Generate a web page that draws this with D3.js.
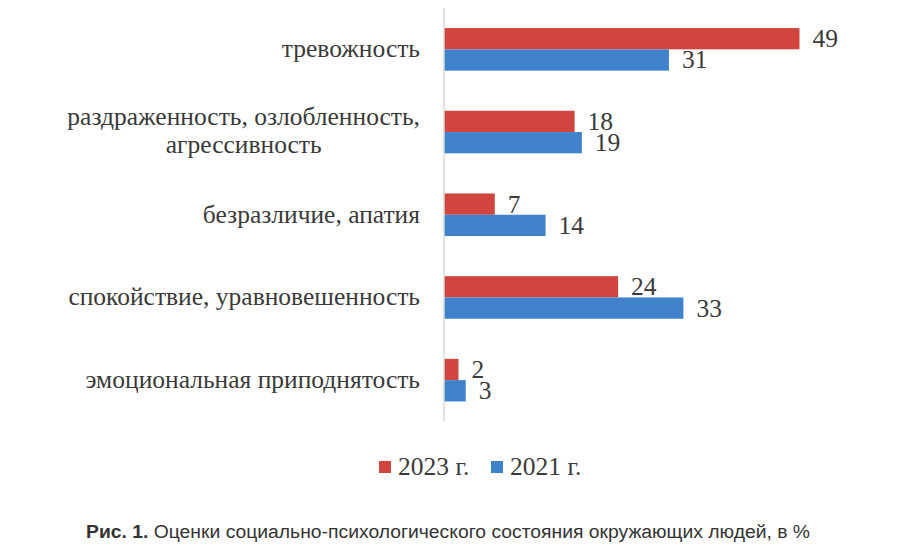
<!DOCTYPE html>
<html>
  <head>
    <meta charset="utf-8">
    <title>Оценки состояния</title>
    <script type="text/javascript" src="https://cdn.jsdelivr.net/npm/d3@7"></script>
    <style>
      body { margin: 0; background: #ffffff; }
    </style>
  </head>
  <body>
    <script type="text/javascript">
      // data
      var categories = [
        ["тревожность"],
        ["раздраженность, озлобленность,", "агрессивность"],
        ["безразличие, апатия"],
        ["спокойствие, уравновешенность"],
        ["эмоциональная приподнятость"]
      ];
      var seriesNames = ["2023 г.", "2021 г."];
      var values2023 = [49, 18, 7, 24, 2];
      var values2021 = [31, 19, 14, 33, 3];
      var colors = ["#d0463f", "#3f82cb"];

      var w = 900, h = 552;
      var svg = d3.select("body").append("svg")
                  .attr("width", w)
                  .attr("height", h);

      var rows = categories.map(function(c, i) {
        return {key: i, label: c, vals: [values2023[i], values2021[i]]};
      });

      var x = d3.scaleLinear().domain([0, 50]).range([444, 444 + 50 * 7.255]);
      var y0 = d3.scaleBand().domain(d3.range(categories.length))
                 .range([8, 421.5]).paddingInner(0.485).paddingOuter(0.2425);
      var y1 = d3.scaleBand().domain([0, 1]).range([0, y0.bandwidth()]);

      var textCol = "#3a3a3a";
      var serif = "'Liberation Serif', 'Times New Roman', serif";
      var fs = 25.5;

      // bars
      var groups = svg.selectAll("g.grp")
                      .data(rows)
                      .enter()
                      .append("g")
                      .attr("class", "grp")
                      .attr("transform", function(d) {
                        return "translate(0," + y0(d.key) + ")";
                      });

      groups.selectAll("rect")
            .data(function(d) { return d.vals; })
            .enter()
            .append("rect")
            .attr("x", x(0))
            .attr("y", function(d, i) { return y1(i); })
            .attr("width", function(d) { return x(d) - x(0); })
            .attr("height", y1.bandwidth())
            .attr("fill", function(d, i) { return colors[i]; });

      groups.selectAll("text.val")
            .data(function(d) { return d.vals; })
            .enter()
            .append("text")
            .attr("class", "val")
            .attr("x", function(d) { return x(d) + 13; })
            .attr("y", function(d, i) { return y1(i) + y1.bandwidth() / 2 + 8.5; })
            .attr("font-family", serif)
            .attr("font-size", fs)
            .attr("fill", textCol)
            .text(function(d) { return d; });

      // axis line
      svg.append("line")
         .attr("x1", x(0)).attr("x2", x(0))
         .attr("y1", 8).attr("y2", 421.5)
         .attr("stroke", "#d9d9d9")
         .attr("stroke-width", 1.5);

      // category labels
      var labelRight = 420;
      rows.forEach(function(d) {
        var cy = y0(d.key) + y0.bandwidth() / 2;
        var t = svg.append("text")
                   .attr("font-family", serif)
                   .attr("font-size", fs)
                   .attr("fill", textCol);
        if (d.label.length == 1) {
          t.attr("x", labelRight).attr("y", cy + 8)
           .attr("text-anchor", "end")
           .text(d.label[0]);
        } else {
          t.attr("text-anchor", "middle");
          var lines = d.label.map(function(l, j) {
            return t.append("tspan").attr("y", cy - 7 + j * 28).text(l);
          });
          var wmax = d3.max(lines, function(l) { return l.node().getComputedTextLength(); });
          lines.forEach(function(l) { l.attr("x", labelRight - wmax / 2); });
        }
      });

      // legend
      var legX = [379, 491];
      seriesNames.forEach(function(s, i) {
        svg.append("rect")
           .attr("x", legX[i]).attr("y", 461)
           .attr("width", 12).attr("height", 12)
           .attr("fill", colors[i]);
        svg.append("text")
           .attr("x", legX[i] + 19).attr("y", 475)
           .attr("font-family", serif)
           .attr("font-size", fs)
           .attr("fill", textCol)
           .text(s);
      });

      // caption
      var cap = svg.append("text")
                   .attr("x", 86).attr("y", 538)
                   .attr("font-family", "'Liberation Sans Narrow', 'Arial Narrow', 'Liberation Sans', sans-serif")
                   .attr("font-size", 18)
                   .attr("fill", "#333333")
                   .attr("textLength", 724)
                   .attr("lengthAdjust", "spacingAndGlyphs");
      cap.append("tspan").attr("font-weight", "bold").text("Рис. 1.");
      cap.append("tspan").text(" Оценки социально-психологического состояния окружающих людей, в %");
    </script>
  </body>
</html>
